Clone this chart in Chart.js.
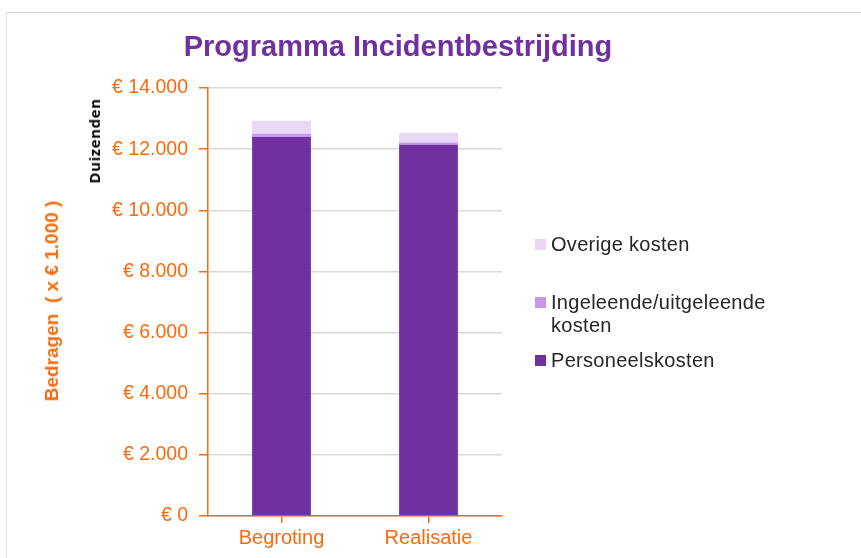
<!DOCTYPE html>
<html><head><meta charset="utf-8">
<script src="https://cdn.jsdelivr.net/npm/chart.js@4/dist/chart.umd.min.js"></script>
<style>
body{margin:0;width:861px;height:558px;overflow:hidden;background:#fff;font-family:"Liberation Sans",Arial,sans-serif;}
#wrap{position:relative;width:861px;height:558px;overflow:hidden;}
#frame{position:absolute;left:6px;top:12px;width:900px;height:600px;border-top:1px solid #d2d2d2;border-left:1px solid #e2e2e2;}
canvas{position:absolute;left:0;top:0;}
#title{position:absolute;left:0;width:796px;top:30px;line-height:33px;text-align:center;font-weight:bold;font-size:29px;color:#7030A0;white-space:nowrap;}
.rot{position:absolute;transform:translate(-50%,-50%) rotate(-90deg);white-space:nowrap;font-weight:bold;}
#ytitle{left:52px;top:301px;font-size:19px;color:#F76B10;}
#yunit{left:94px;top:141px;font-size:15px;color:#000;letter-spacing:0.6px;font-family:"Open Sans","Liberation Sans",sans-serif;}
#legend{position:absolute;left:535px;top:233px;font-size:20px;color:#262626;line-height:23px;letter-spacing:0.3px;}
.li{display:flex;align-items:flex-start;max-width:250px;}
.sw{width:11px;height:11px;flex:none;margin-top:6px;margin-right:5px;}
</style></head>
<body><div id="wrap">
<div id="frame"></div>
<canvas id="c" width="861" height="558"></canvas>
<div id="title">Programma Incidentbestrijding</div>
<div id="ytitle" class="rot">Bedragen&nbsp; ( x € 1.000 )</div>
<div id="yunit" class="rot">Duizenden</div>
<div id="legend"></div>
</div>
<script>
const categories = ['Begroting', 'Realisatie'];
const personeelskosten = [12400, 12140];
const ingeleendeKosten = [100, 75];
const overigeKosten = [425, 320];
const seriesNames = ['Personeelskosten', 'Ingeleende/uitgeleende kosten', 'Overige kosten'];
const seriesColors = ['#7030A0', '#C896F0', '#E8D8F6'];
const yTickValues = [0, 2000, 4000, 6000, 8000, 10000, 12000, 14000];

const orange = '#F76B10';
function fmt(v){ return '€ ' + String(v).replace(/\B(?=(\d{3})+(?!\d))/g, '.'); }

const seriesData = [personeelskosten, ingeleendeKosten, overigeKosten];
const datasets = seriesNames.map((n, i) => ({
  label: n, data: seriesData[i], backgroundColor: seriesColors[i],
  barPercentage: 0.4, categoryPercentage: 1.0, borderWidth: 0
}));

new Chart(document.getElementById('c'), {
  type: 'bar',
  data: { labels: categories, datasets },
  options: {
    responsive: false, animation: false, devicePixelRatio: 1,
    layout: { padding: { top: 88, right: 359, bottom: 0, left: 0 } },
    plugins: { legend: { display: false }, title: { display: false }, tooltip: { enabled: false } },
    scales: {
      x: {
        stacked: true,
        grid: { color: orange, lineWidth: 1.5, drawOnChartArea: false, drawTicks: true, tickLength: 7, tickColor: orange, tickWidth: 1.5, offset: false },
        border: { color: orange, width: 1.5 },
        ticks: { color: orange, font: { family: 'Liberation Sans', size: 20 }, padding: 3 },
        afterFit: s => { s.height = 42; }
      },
      y: {
        stacked: true, min: 0, max: 14000,
        afterBuildTicks: s => { s.ticks = yTickValues.map(v => ({ value: v })); },
        grid: { color: '#D9D9D9', lineWidth: 1.5, tickColor: orange, tickWidth: 1.5, tickLength: 9 },
        border: { color: orange, width: 1.5 },
        ticks: { color: orange, font: { family: 'Liberation Sans', size: 19.5 }, padding: 11, callback: v => fmt(v) },
        afterFit: s => { s.width = 208; }
      }
    }
  }
});

const legend = document.getElementById('legend');
const gaps = [0, 35, 12];
[2, 1, 0].forEach((idx, k) => {
  const li = document.createElement('div');
  li.className = 'li';
  li.style.marginTop = gaps[k] + 'px';
  const sw = document.createElement('span');
  sw.className = 'sw'; sw.style.background = seriesColors[idx];
  const tx = document.createElement('span');
  tx.textContent = seriesNames[idx];
  li.appendChild(sw); li.appendChild(tx);
  legend.appendChild(li);
});
</script>
</body></html>
